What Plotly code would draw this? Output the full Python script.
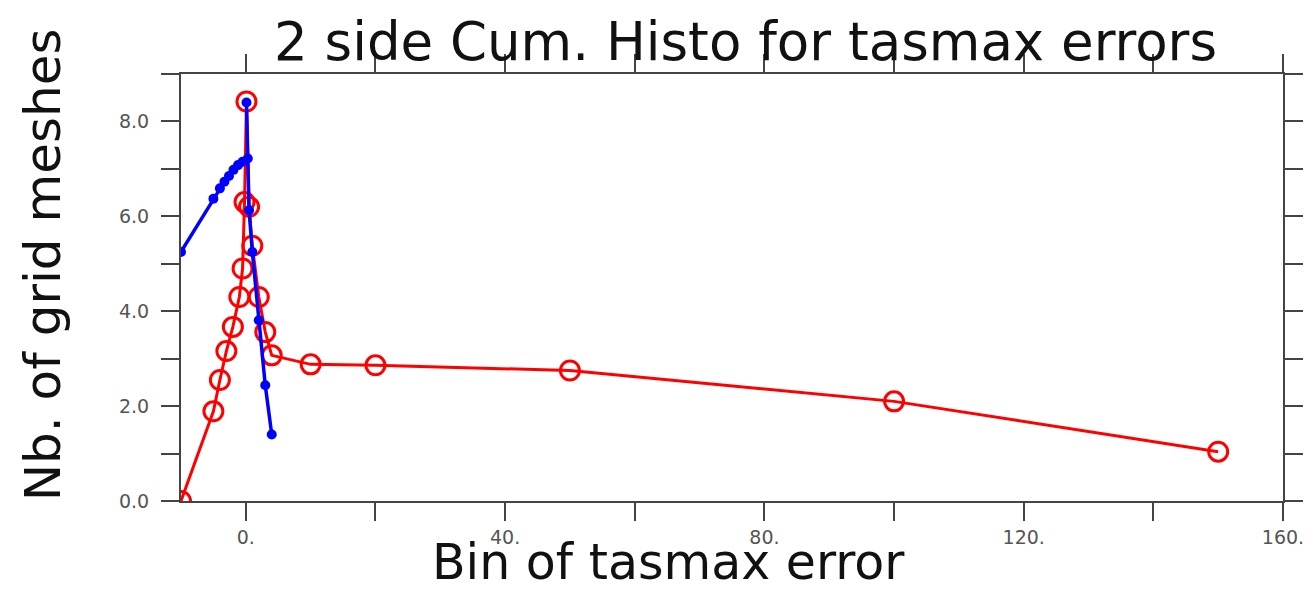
import plotly.graph_objects as go

# Data
red_x = [-10, -5, -4, -3, -2, -1, -0.5, -0.2, 0.1, 0.5, 1, 2, 3, 4, 10, 20, 50, 100, 150]
red_y = [0.0, 1.89, 2.55, 3.16, 3.67, 4.30, 4.90, 6.30, 8.42, 6.20, 5.38, 4.30, 3.56, 3.07, 2.88, 2.86, 2.75, 2.10, 1.04]

blue_x = [-10, -5, -4, -3.3, -2.6, -1.9, -1.2, -0.5, 0.3, 0.1, 0.5, 1, 2, 3, 4]
blue_y = [5.25, 6.37, 6.59, 6.73, 6.85, 6.98, 7.08, 7.15, 7.22, 8.40, 6.13, 5.25, 3.81, 2.44, 1.40]

x_tickvals = [0, 20, 40, 60, 80, 100, 120, 140, 160]
x_ticktext = ["0.", "", "40.", "", "80.", "", "120.", "", "160."]
y_tickvals = [0, 1, 2, 3, 4, 5, 6, 7, 8, 9]
y_ticktext = ["0.0", "", "2.0", "", "4.0", "", "6.0", "", "8.0", ""]

title_text = "2 side Cum. Histo for tasmax errors"
xlabel_text = "Bin of tasmax error"
ylabel_text = "Nb. of grid meshes"

fig = go.Figure()
fig.add_trace(go.Scatter(
    x=red_x, y=red_y, mode="lines+markers",
    line=dict(color="#ff0000", width=3),
    marker=dict(symbol="circle-open", size=19, color="#ff0000", line=dict(width=3, color="#ff0000")),
    showlegend=False,
))
fig.add_trace(go.Scatter(
    x=blue_x, y=blue_y, mode="lines+markers",
    line=dict(color="#0000ff", width=3.5),
    marker=dict(symbol="circle", size=10, color="#0000ff"),
    showlegend=False,
))

axis_common = dict(
    showgrid=False, zeroline=False, showline=True, linecolor="#444444", linewidth=2,
    mirror="allticks", ticks="outside", ticklen=18, tickwidth=1.5, tickcolor="#444444",
    tickfont=dict(family="DejaVu Sans", size=19, color="#555555"),
)

# page body has an 8px margin, so the figure is 8px smaller and shifted
fig.update_layout(
    width=1308, height=586,
    margin=dict(l=173, r=29, t=66, b=93),
    paper_bgcolor="white", plot_bgcolor="white",
    xaxis=dict(range=[-10, 160], tickmode="array", tickvals=x_tickvals, ticktext=x_ticktext,
               ticklabelstandoff=0, **axis_common),
    yaxis=dict(range=[0, 9], tickmode="array", tickvals=y_tickvals, ticktext=y_ticktext,
               ticklabelstandoff=8, **axis_common),
    annotations=[
        dict(text=title_text, xref="paper", yref="paper", x=0.5118, y=1.152,
             xanchor="center", yanchor="top", showarrow=False,
             font=dict(family="DejaVu Sans", size=53, color="#111111")),
        dict(text=xlabel_text, xref="paper", yref="paper", x=0.442, y=-0.216,
             xanchor="center", yanchor="bottom", showarrow=False,
             font=dict(family="DejaVu Sans", size=49, color="#111111")),
        dict(text=ylabel_text, xref="paper", yref="paper", x=-0.1257, y=0.553,
             xanchor="center", yanchor="middle", showarrow=False, textangle=-90,
             font=dict(family="DejaVu Sans", size=50, color="#111111")),
    ],
)

fig.write_html("out.html")
